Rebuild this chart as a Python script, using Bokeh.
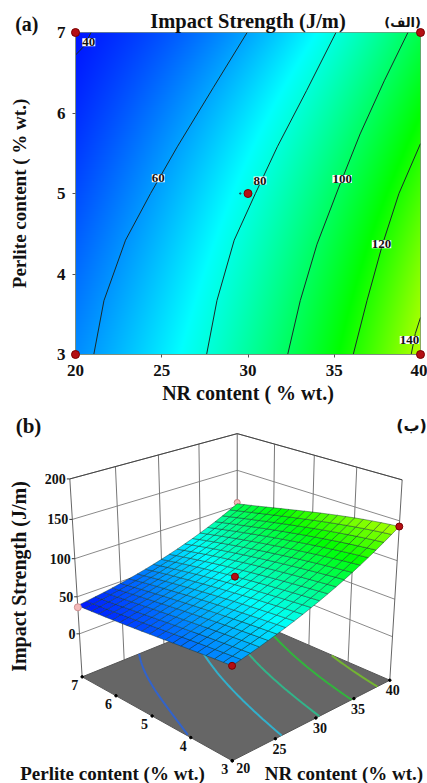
import numpy as np
from bokeh.plotting import figure
from bokeh.models import FixedTicker
from bokeh.core.properties import value
from bokeh.embed import file_html
from bokeh.resources import INLINE

# ---------- data ----------
nr_grid = [20, 22.5, 25, 27.5, 30, 32.5, 35, 37.5, 40]
perlite_grid = [3, 4, 5, 6, 7]
strength_p3 = [57, 64, 72, 80, 90, 101, 114, 128, 143]
strength_p4 = [52, 59, 67, 75, 84, 95, 107, 121, 135]
strength_p5 = [47, 54, 62, 70, 78, 88.5, 100, 113, 127]
strength_p6 = [42, 48, 54.5, 61.5, 71, 79.5, 89.5, 101, 114]
strength_p7 = [38, 43, 48, 54, 60, 69, 80, 91, 103]

c40_nr = [20.0, 20.5, 20.9]
c40_p = [6.72, 6.83, 7.0]
c60_nr = [21.06, 21.65, 22.9, 24.35, 25.9, 28.0, 29.95]
c60_p = [3.0, 3.67, 4.42, 5.0, 5.58, 6.32, 7.0]
c80_nr = [27.6, 28.2, 29.2, 30.43, 31.7, 33.4, 35.1]
c80_p = [3.0, 3.67, 4.42, 5.0, 5.58, 6.28, 7.0]
c100_nr = [32.3, 33.03, 34.0, 35.27, 36.5, 37.9, 39.27]
c100_p = [3.0, 3.67, 4.37, 5.08, 5.74, 6.4, 7.0]
c120_nr = [36.1, 36.9, 37.8, 38.75, 40.0]
c120_p = [3.0, 3.67, 4.37, 5.0, 5.62]
c140_nr = [39.46, 39.7, 40.0]
c140_p = [3.0, 3.26, 3.46]

contour_labels = ["40", "60", "80", "100", "120", "140"]
label_nr = [20.77, 24.8, 30.7, 35.46, 37.74, 39.36]
label_p = [6.88, 5.19, 5.16, 5.18, 4.37, 3.18]

design_nr = [20, 40, 20, 40, 30]
design_p = [3, 3, 7, 7, 5]
design_strength_pink = [36, 103]
floor_levels = [52, 74, 92, 112, 132]

nr_ticks = [20, 25, 30, 35, 40]
perlite_ticks = [3, 4, 5, 6, 7]
strength_ticks = [0, 50, 100, 150, 200]

FONT = "Liberation Serif"
table = np.array([strength_p3, strength_p4, strength_p5, strength_p6, strength_p7], float)
nr_arr = np.array(nr_grid, float)
p_arr = np.array(perlite_grid, float)

# low-order polynomial surface through the read table, used only for smooth shading
_coef_nr = np.array([np.polyfit(nr_arr - 30, row, 3) for row in table])
_coef_pp = np.array([np.polyfit(p_arr - 5, _coef_nr[:, k], 3) for k in range(4)])


def field(nrs, ps):
    nrs = np.asarray(nrs, float)
    out = []
    for pp in ps:
        c = [np.polyval(_coef_pp[k], pp - 5) for k in range(4)]
        out.append(np.polyval(c, nrs - 30))
    return np.array(out)


def cmap(v):
    v = np.asarray(v, float)
    s = [35, 75, 115, 155]
    return (np.interp(v, s, [0, 0, 0, 255]),
            np.interp(v, s, [0, 255, 255, 255]),
            np.interp(v, s, [255, 255, 0, 0]))


# ---------- (a) contour map ----------
# the x axis of (a) needs 52px under its frame, so (a) is 406px tall in the page
W, H1, H2, OVER = 427, 400, 383, 6
p1 = figure(width=W, height=H1 + OVER, x_range=(20, 40), y_range=(3, 7),
            output_backend="svg", toolbar_location=None,
            min_border_left=75, min_border_right=7, min_border_top=32, min_border_bottom=46)
p1.title.text = "Impact Strength (J/m)"
p1.title.align = "center"
p1.title.text_font = FONT
p1.title.text_font_size = "20.5px"
p1.title.text_font_style = "bold"
p1.title.text_color = "#111111"
p1.title.standoff = 2

gx = np.linspace(20, 40, 345)
gy = np.linspace(3, 7, 322)
Z = field(gx, gy)
r, g, b = cmap(Z)
img = np.dstack([r, g, b, np.full_like(r, 255)]).astype(np.uint8)
view = np.zeros(img.shape[:2], dtype=np.uint32)
view.view(dtype=np.uint8).reshape(img.shape)[:] = img
p1.image_rgba(image=[view], x=20, y=3, dw=20, dh=4)

for xs, ys in [(c40_nr, c40_p), (c60_nr, c60_p), (c80_nr, c80_p),
               (c100_nr, c100_p), (c120_nr, c120_p), (c140_nr, c140_p)]:
    p1.line(xs, ys, line_color="#1a2a2a", line_width=1, line_join="round")

p1.text(label_nr, label_p, text=contour_labels, text_font=value(FONT), text_font_style="bold",
        text_font_size="13px", text_align="center", text_baseline="middle", text_color="#111111",
        background_fill_color="white")

for ax in (p1.xaxis[0], p1.yaxis[0]):
    ax.major_label_text_font = FONT
    ax.major_label_text_font_style = "bold"
    ax.major_label_text_font_size = "17px"
    ax.major_label_text_color = "#111111"
    ax.axis_label_text_font = FONT
    ax.axis_label_text_font_style = "bold"
    ax.axis_label_text_color = "#111111"
    ax.axis_line_color = "#7f8f7f"
    ax.major_tick_line_color = "#555555"
    ax.major_tick_in = 0
    ax.major_tick_out = 3
    ax.minor_tick_line_color = None
p1.xaxis[0].axis_label_text_font_size = "20px"
p1.yaxis[0].axis_label_text_font_size = "19px"
p1.xaxis[0].ticker = FixedTicker(ticks=nr_ticks)
p1.yaxis[0].ticker = FixedTicker(ticks=perlite_ticks)
p1.xaxis[0].axis_label = "NR content ( % wt.)"
p1.yaxis[0].axis_label = "Perlite content ( % wt.)"
p1.xaxis[0].major_label_standoff = 7
p1.xaxis[0].axis_label_standoff = 3
p1.yaxis[0].major_label_standoff = 7
p1.yaxis[0].axis_label_standoff = 24
p1.grid.visible = False
p1.outline_line_color = "#7f8f7f"
p1.border_fill_color = "white"

p1.scatter(design_nr, design_p, size=8, fill_color="#b50f14", line_color="#7a0000",
           level="overlay")
p1.scatter([29.55], [5.0], size=1.5, fill_color="#205060", line_color="#205060")
p1.frame_width = 345
p1.frame_height = 322

p1.text([16.5], [7.11], text=["(a)"], text_font=value(FONT), text_font_style="bold",
        text_font_size="20px", text_baseline="middle", text_color="#111111", level="overlay")
p1.text([38.96], [7.125], text=["(الف)"], text_font=value("DejaVu Sans"), text_font_style="bold",
        text_font_size="13px", text_align="center", text_baseline="middle", text_color="#111111",
        level="overlay")

# ---------- (b) response surface: projected by a camera fitted to the box ----------
p2 = figure(width=W, height=H2 - OVER, x_range=(0, W), y_range=(H2, OVER), output_backend="svg",
            toolbar_location=None, min_border=0, x_axis_type=None, y_axis_type=None)
p2.grid.visible = False
p2.outline_line_color = None
p2.background_fill_color = "white"
p2.border_fill_color = "white"

Z_LO, Z_HI = -60, 200
box = [((-1, -1, -1), (231.7, 360)), ((1, -1, -1), (389.3, 280)), ((-1, 1, -1), (81.7, 276.7)),
       ((1, 1, -1), (236.7, 213.3)), ((-1, 1, 1), (69.3, 78.3)), ((1, -1, 1), (401.7, 79.3)),
       ((1, 1, 1), (236.7, 33.3))]
A, B = [], []
for (u, v, w), (sx, sy) in box:
    A.append([u, v, w, 1, 0, 0, 0, 0, -sx * u, -sx * v, -sx * w]); B.append(sx)
    A.append([0, 0, 0, 0, u, v, w, 1, -sy * u, -sy * v, -sy * w]); B.append(sy)
h = np.linalg.lstsq(np.array(A, float), np.array(B, float), rcond=None)[0]


def proj(nr, pe, z):
    u = (np.asarray(nr, float) - 30) / 10
    v = (np.asarray(pe, float) - 5) / 2
    w = (np.asarray(z, float) - (Z_LO + Z_HI) / 2) / ((Z_HI - Z_LO) / 2)
    d = h[8] * u + h[9] * v + h[10] * w + 1
    return (h[0] * u + h[1] * v + h[2] * w + h[3]) / d, (h[4] * u + h[5] * v + h[6] * w + h[7]) / d


def seg3(nr0, pe0, z0, nr1, pe1, z1, color, width=1):
    a, b_ = proj(nr0, pe0, z0), proj(nr1, pe1, z1)
    p2.line([float(a[0]), float(b_[0])], [float(a[1]), float(b_[1])], line_color=color, line_width=width)


GRID = "#8a8a8a"
for zt in strength_ticks:
    seg3(20, 7, zt, 40, 7, zt, GRID)
    seg3(40, 7, zt, 40, 3, zt, GRID)
for nt in nr_ticks[1:-1]:
    seg3(nt, 7, Z_LO, nt, 7, Z_HI, "#777777")
for pt in perlite_ticks[1:-1]:
    seg3(40, pt, Z_LO, 40, pt, Z_HI, "#777777")
seg3(20, 7, Z_LO, 20, 7, Z_HI, "#666666")
seg3(40, 7, Z_LO, 40, 7, Z_HI, "#666666")
seg3(40, 3, Z_LO, 40, 3, Z_HI, "#666666")
seg3(20, 7, Z_HI, 40, 7, Z_HI, "#444444")
seg3(40, 7, Z_HI, 40, 3, Z_HI, "#444444")

fx, fy = proj([20, 40, 40, 20], [3, 3, 7, 7], [Z_LO] * 4)
p2.patch(list(fx), list(fy), fill_color="#666666", line_color="#555555", line_width=1)

# floor contours traced through the table
ps_dense = np.linspace(3, 7, 41)
nr_dense = np.linspace(20, 40, 201)
rows_dense = field(nr_dense, ps_dense)
for lev in floor_levels:
    nrs = np.array([np.interp(lev, rw, nr_dense, left=np.nan, right=np.nan) for rw in rows_dense])
    ok = ~np.isnan(nrs)
    cx, cy = proj(nrs[ok], ps_dense[ok], np.full(ok.sum(), Z_LO))
    r_, g_, b_ = cmap(lev)
    col = "#%02x%02x%02x" % (int(r_ * .6 + 50), int(g_ * .55 + 40), int(b_ * .6 + 50))
    p2.line(list(cx), list(cy), line_color=col, line_width=2)

# pink design point at the far corner, hidden behind the surface
bx, by = proj(40, 7, design_strength_pink[1] + 2)
p2.scatter([float(bx)], [float(by)], size=6, fill_color="#f4b8b8", line_color="#c08080")

n = 21
sn = np.linspace(20, 40, n)
sp = np.linspace(3, 7, n)
SZ = field(sn, sp)
xs_q, ys_q, cols = [], [], []
for i in range(n - 1):
    for j in range(n - 1):
        qn = [sn[j], sn[j + 1], sn[j + 1], sn[j]]
        qp = [sp[i], sp[i], sp[i + 1], sp[i + 1]]
        qz = [SZ[i, j], SZ[i, j + 1], SZ[i + 1, j + 1], SZ[i + 1, j]]
        qx, qy = proj(qn, qp, qz)
        xs_q.append(list(qx)); ys_q.append(list(qy))
        r_, g_, b_ = cmap(np.mean(qz))
        cols.append("#%02x%02x%02x" % (int(r_), int(g_), int(b_)))
p2.patches(xs_q, ys_q, fill_color=cols, line_color="#10302a", line_alpha=0.55, line_width=0.8)

px_, py_ = proj([20, 40, 20, 30], [3, 3, 7, 5],
                [strength_p3[0], strength_p3[-1], design_strength_pink[0], strength_p5[4]])
p2.scatter(list(px_[[0, 1, 3]]), list(py_[[0, 1, 3]]), size=7, fill_color="#b50f14", line_color="#7a0000")
p2.scatter([float(px_[2])], [float(py_[2])], size=7, fill_color="#f4b8b8", line_color="#d09090")


def texts(xs, ys, labels, size, align="center", angle=0.0, font=FONT):
    p2.text(xs, ys, text=labels, text_font=value(font), text_font_style="bold",
            text_font_size=size, text_align=align, text_baseline="middle",
            text_color="#111111", angle=angle)


# z axis
zx, zy = proj([20] * 5, [7] * 5, strength_ticks)
for x0, y0 in zip(zx, zy):
    p2.line([x0 - 3, x0], [y0, y0], line_color="#333333", line_width=1)
texts(list(zx - 4), list(zy), [str(t) for t in strength_ticks], "14px", align="right")

# floor ticks and labels
tx, ty = proj([20] * 5, perlite_ticks, [Z_LO] * 5)
p2.scatter(list(tx), list(ty), size=2.5, fill_color="black", line_color="black")
texts(list(tx - 7.5), list(ty + 8), [str(t) for t in perlite_ticks], "14px")
tx, ty = proj(nr_ticks, [3] * 5, [Z_LO] * 5)
p2.scatter(list(tx), list(ty), size=2.5, fill_color="black", line_color="black")
dx = np.array([11, 4, 4, 4, 3])
dy = np.array([7, 10, 10, 10, 10])
texts(list(tx + dx), list(ty + dy), [str(t) for t in nr_ticks], "14px")

texts([112], [372.5], ["Perlite content (% wt.)"], "19px")
texts([343.5], [372.5], ["NR content (% wt.)"], "19px")
texts([18], [176], ["Impact Strength (J/m)"], "20px", angle=np.pi / 2)
texts([28], [25], ["(b)"], "21px")
texts([411], [25], ["(ب)"], "16px", font="DejaVu Sans")

open("out.html", "w").write(file_html([p1, p2], INLINE))
